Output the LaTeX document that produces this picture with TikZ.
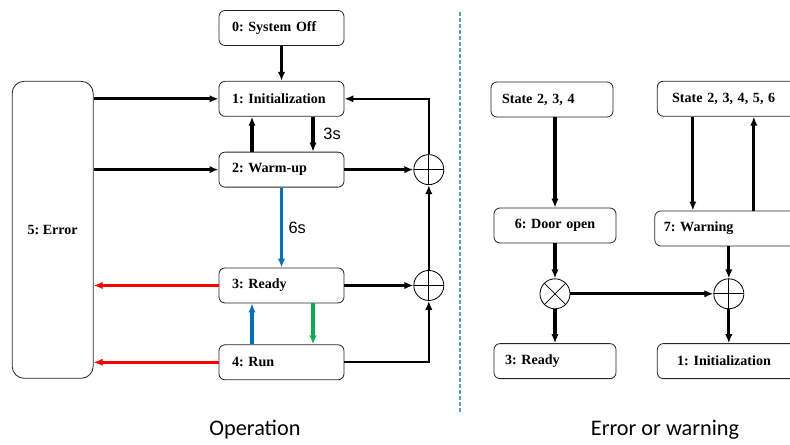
\documentclass[tikz,border=0pt]{standalone}
\usepackage{fontspec}
\setmainfont{Liberation Serif}
\newfontfamily\arialfont{Liberation Sans}
\newfontfamily\calfont{Carlito}
\usetikzlibrary{arrows.meta, positioning, calc}
\frenchspacing

\definecolor{runblue}{RGB}{0,112,192}
\definecolor{errred}{RGB}{255,0,0}
\definecolor{okgreen}{RGB}{0,176,80}
\definecolor{splitblue}{RGB}{91,155,213}

\begin{document}
\begin{tikzpicture}[x=0.3mm, y=-0.3mm, >={Latex[length=2.7mm,width=2.2mm]},
    state/.style={rectangle, draw=black!85, line width=0.7pt, rounded corners=1.8mm, minimum height=10.5mm, text width=29.7mm, inner xsep=3.9mm, align=left, font=\fontsize{12}{14}\selectfont\bfseries},
    errbox/.style={rectangle, draw=black!85, line width=0.7pt, rounded corners=3.6mm, minimum width=24.3mm, minimum height=89.1mm, font=\fontsize{12}{14}\selectfont\bfseries},
    sum/.style={circle, draw, line width=0.7pt, minimum size=9mm, inner sep=0pt,
        path picture={\draw[line width=0.6pt] (path picture bounding box.north) -- (path picture bounding box.south) (path picture bounding box.west) -- (path picture bounding box.east);}},
    prod/.style={circle, draw, line width=0.7pt, minimum size=9mm, inner sep=0pt,
        path picture={\draw[line width=0.6pt] (path picture bounding box.north west) -- (path picture bounding box.south east) (path picture bounding box.south west) -- (path picture bounding box.north east);}},
    flow/.style={->, line width=2.6pt},
    thin flow/.style={->, line width=1.9pt},
    note/.style={text=black, font=\arialfont\fontsize{14}{16}\selectfont},
    caption/.style={font=\calfont\fontsize{19}{22}\selectfont}]

    \useasboundingbox (0,0) rectangle (790,445);
    \clip (0,0) rectangle (790,445);

    % operation states
    \node (off) [state] at (281.5,28) {0: System Off};
    \node (init) [state, below=10.5mm of off] {1: Initialization};
    \node (warm) [state, below=10.5mm of init] {2: Warm-up};
    \node (ready) [state, below=24mm of warm] {3: Ready};
    \node (run) [state, below=12.3mm of ready] {4: Run};
    \node (error) [errbox, left=37.5mm of init.north west, anchor=north east] {5: Error};
    \node (plus1) [sum, right=20.7mm of warm] {};
    \node (plus2) [sum, right=20.7mm of ready] {};

    \draw [flow] (off) -- (init);
    \draw [flow] (error.east |- init) -- (init);
    \draw [flow] (error.east |- warm) -- (warm);
    \draw [flow] ($(init.south)+(31.5,0)$) -- ($(warm.north)+(31.5,0)$) node (t3s) [note, midway, right=1.5mm] {3s};
    \draw [flow] ($(warm.north)+(-29.5,0)$) -- ($(init.south)+(-29.5,0)$);
    \draw [flow, runblue] (warm) -- (ready) node (t6s) [note, midway, right=0.5mm] {6s};
    \draw [flow, errred] (ready) -- (ready -| error.east);
    \draw [flow, errred] (run) -- (run -| error.east);
    \draw [flow, runblue] ($(run.north)+(-29.5,0)$) -- ($(ready.south)+(-29.5,0)$);
    \draw [flow, okgreen] ($(ready.south)+(31.5,0)$) -- ($(run.north)+(31.5,0)$);
    \draw [flow] (warm) -- (plus1);
    \draw [flow] (ready) -- (plus2);
    \draw [thin flow] (run) -| (plus2);
    \draw [thin flow] (plus2) -- (plus1);
    \draw [thin flow] (plus1) |- (init);

    % divider
    \draw [splitblue, line width=1.5pt, dash pattern=on 1.2mm off 0.6mm] (460,12) -- (460,412);

    % error / warning handling
    \node (st234) [state, text width=30mm, inner xsep=3.3mm] at (552,99.5) {State 2, 3, 4};
    \node (door) [state, text width=30mm, inner xsep=3.3mm, align=center] at (555,225.5) {6: Door open};
    \node (gate) [prod, below=10.5mm of door] {};
    \node (ready2) [state, text width=30mm, inner xsep=3.3mm, below=10.2mm of gate] {3: Ready};
    \node (merge) [sum, right=42.9mm of gate] {};
    \node (warn) [state, text width=39mm, inner xsep=2.7mm, above=9.6mm of merge] {7: Warning};
    \node (st23456) [state, text width=34mm, inner xsep=4.45mm, above=28.2mm of warn] {State 2, 3, 4, 5, 6};
    \node (init2) [state, text width=31mm, inner xsep=5.95mm, below=10.2mm of merge] {1: Initialization};

    \draw [flow] (st234.south -| door.north) -- (door.north);
    \draw [flow] ($(st23456.south)+(-36,0)$) -- ($(warn.north)+(-36,0)$);
    \draw [flow] ($(warn.north)+(25,0)$) -- ($(st23456.south)+(25,0)$);
    \draw [flow] (door) -- (gate);
    \draw [flow] (gate) -- (ready2);
    \draw [flow] (gate) -- (merge);
    \draw [flow] (warn) -- (merge);
    \draw [flow] (merge) -- (init2);

    \node (capop) [caption] at (255,430) {Operation};
    \node (caperr) [caption] at (665,430) {Error or warning};

\end{tikzpicture}
\end{document}
